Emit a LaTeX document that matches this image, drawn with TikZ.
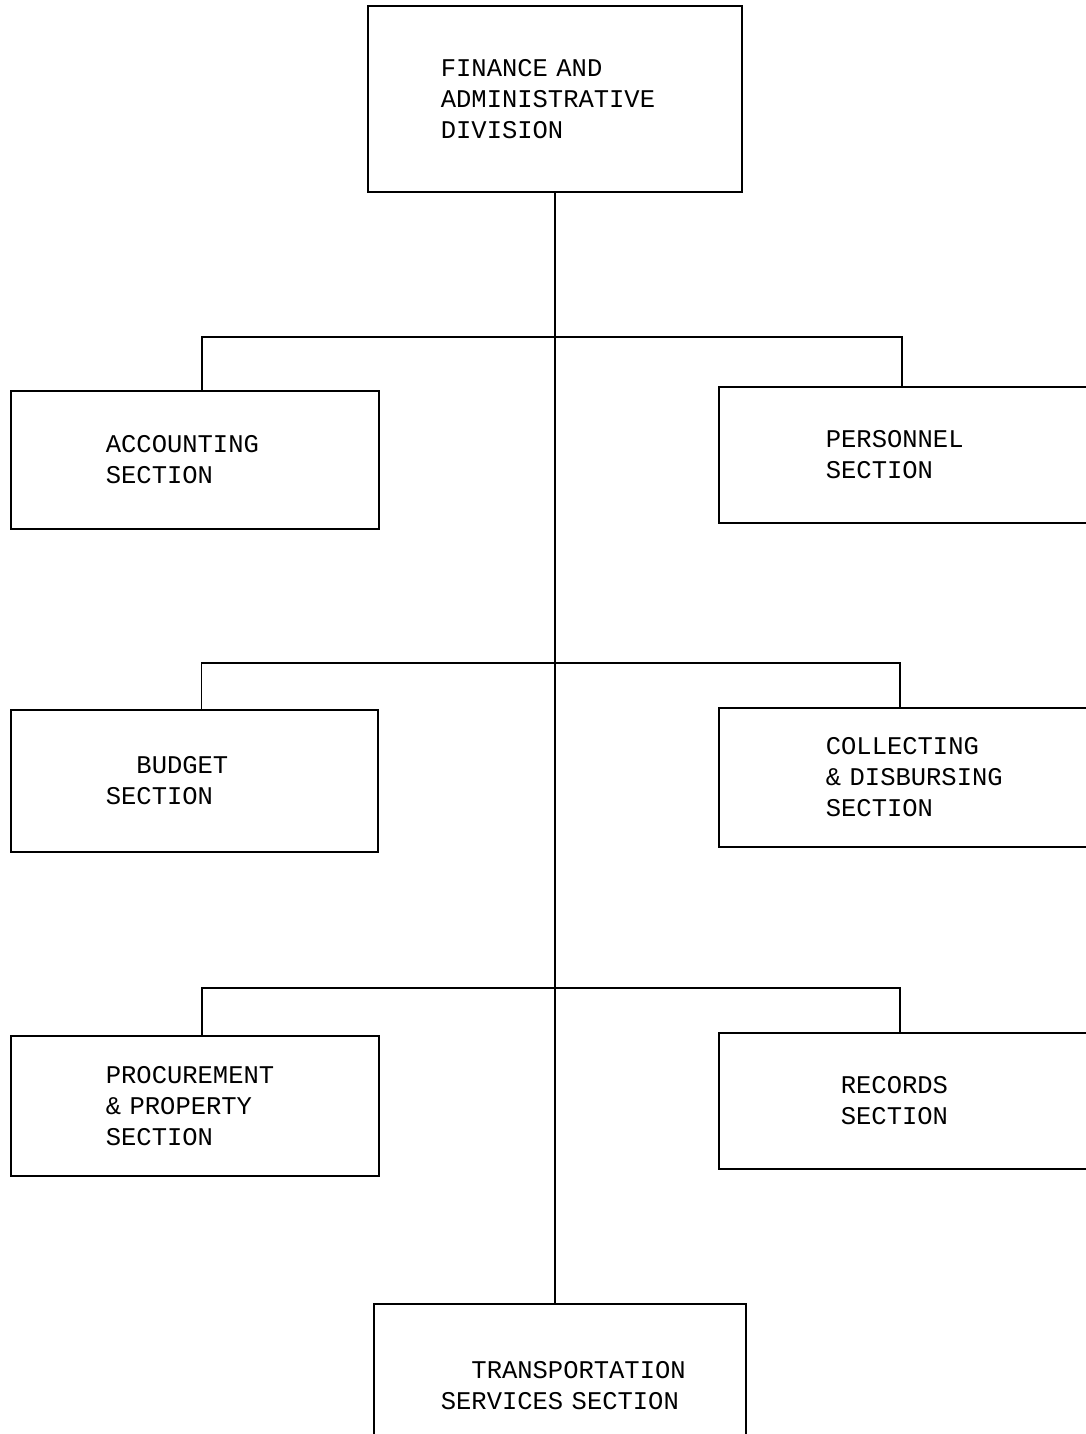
\documentclass[tikz,border=0pt]{standalone}
\usepackage{fontspec}
\newfontfamily\typewr{Liberation Mono}
\usetikzlibrary{positioning}

\begin{document}
\begin{tikzpicture}[x=1pt,y=-1pt]
 \tikzstyle{secbox}=[draw,line width=1.7pt,anchor=north west,align=left,
   inner ysep=0pt,font=\typewr\fontsize{25.5}{31}\selectfont]
 \tikzstyle{link}=[line width=1.4pt]
 \useasboundingbox[fill=white] (0,0) rectangle (1086,1434);
 \node[secbox,minimum width=374pt,minimum height=186pt,inner xsep=73pt,text width=228pt]
   (fin) at (367,5) {FINANCE AND\\ADMINISTRATIVE\\DIVISION};
 \node[secbox,minimum width=368pt,minimum height=138pt,inner xsep=95pt,text width=178pt]
   (acc) at (10,390) {ACCOUNTING\\SECTION};
 \node[secbox,minimum width=420pt,minimum height=136pt,inner xsep=107pt,text width=206pt]
   (per) at (718,386) {PERSONNEL\\SECTION};
 \node[secbox,minimum width=367pt,minimum height=142pt,inner xsep=95pt,text width=177pt]
   (bud) at (10,709) {\phantom{XX}BUDGET\\SECTION};
 \node[secbox,minimum width=420pt,minimum height=139pt,inner xsep=107pt,text width=206pt]
   (col) at (718,707) {COLLECTING\\\&~DISBURSING\\SECTION};
 \node[secbox,minimum width=368pt,minimum height=140pt,inner xsep=95pt,text width=178pt]
   (pro) at (10,1035) {PROCUREMENT\\\&~PROPERTY\\SECTION};
 \node[secbox,minimum width=420pt,minimum height=136pt,inner xsep=122pt,text width=176pt]
   (rec) at (718,1032) {RECORDS\\SECTION};
 \node[secbox,minimum width=372pt,minimum height=163pt,inner xsep=67pt,text width=238pt]
   (trn) at (373,1303) {\mbox{\phantom{XX}TRANSPORTATION}\\\mbox{SERVICES SECTION}};
 \coordinate (b1) at (554,337);
 \coordinate (b2) at (554,663);
 \coordinate (b3) at (554,988);
 \path[draw,link]
 (fin.south) -- (fin.south |- trn.north)
 ([xshift=7pt]acc.north) |- (b1) -| ([xshift=184pt]per.north west)
 ([xshift=7pt]bud.north) |- (b2) -| ([xshift=182pt]col.north west)
 ([xshift=7pt]pro.north) |- (b3) -| ([xshift=182pt]rec.north west)
 ;
\end{tikzpicture}
\end{document}
